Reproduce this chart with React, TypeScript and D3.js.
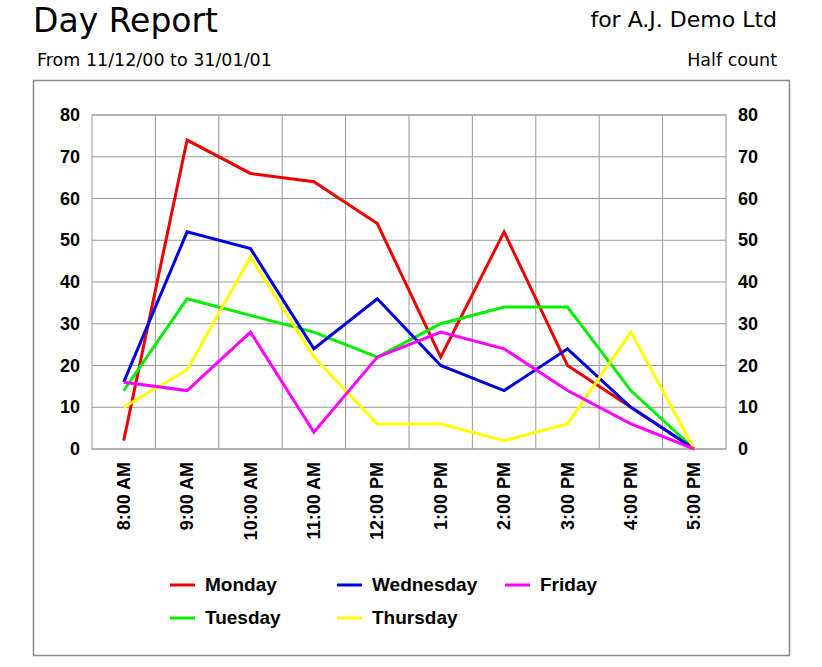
import React from "react";
import * as d3 from "d3";

const categories = ["8:00 AM","9:00 AM","10:00 AM","11:00 AM","12:00 PM","1:00 PM","2:00 PM","3:00 PM","4:00 PM","5:00 PM"];
const seriesNames = ["Monday","Tuesday","Wednesday","Thursday","Friday"];
const seriesColors = ["#ee0000","#00ee00","#0000dd","#ffff00","#ff00ff"];
const monday = [2,74,66,64,54,22,52,20,10,0];
const tuesday = [14,36,32,28,22,30,34,34,14,0];
const wednesday = [16,52,48,24,36,20,14,24,10,0];
const thursday = [10,19,46,22,6,6,2,6,28,0];
const friday = [16,14,28,4,22,28,24,14,6,0];
const yTicks = [0,10,20,30,40,50,60,70,80];

export default function App() {
  const series = [monday, tuesday, wednesday, thursday, friday];
  const x = d3.scaleBand<string>().domain(categories).range([92, 726]);
  const y = d3.scaleLinear().domain([0, 80]).range([449, 115]);
  const cx = (c: string) => (x(c) as number) + x.bandwidth() / 2;
  const line = d3.line<number>().x((_, i) => cx(categories[i])).y(d => y(d));
  const legendPos = [[170,585],[170,618],[337,585],[337,618],[505,585]];
  const f = "Liberation Sans, Arial, sans-serif";
  const g = "DejaVu Sans, Verdana, sans-serif";
  return (
    <svg width={822} height={667} style={{position:"absolute",left:0,top:0}}>
      <rect width={822} height={667} fill="#fff" />
      <text x={33} y={32} fontFamily={g} fontSize={33}>Day Report</text>
      <text x={777} y={27} fontFamily={g} fontSize={22} textAnchor="end">for A.J. Demo Ltd</text>
      <text x={37} y={66} fontFamily={g} fontSize={17.5}>From 11/12/00 to 31/01/01</text>
      <text x={777} y={66} fontFamily={g} fontSize={17.5} textAnchor="end">Half count</text>
      <rect x={33.5} y={80.5} width={756} height={575} fill="none" stroke="#888" strokeWidth={1.5} />
      {yTicks.map(t => <line key={t} x1={92} x2={726} y1={y(t)} y2={y(t)} stroke="#999" strokeWidth={1} />)}
      {categories.slice(1).map(c => <line key={c} x1={x(c)} x2={x(c)} y1={115} y2={449} stroke="#999" strokeWidth={1} />)}
      <rect x={92} y={115} width={634} height={334} fill="none" stroke="#999" />
      {yTicks.map(t => <text key={"l"+t} x={80} y={y(t)+6} textAnchor="end" fontFamily={f} fontWeight="bold" fontSize={18}>{t}</text>)}
      {yTicks.map(t => <text key={"r"+t} x={738} y={y(t)+6} fontFamily={f} fontWeight="bold" fontSize={18}>{t}</text>)}
      {categories.map(c => <text key={c} transform={`translate(${cx(c)+6},462) rotate(-90)`} textAnchor="end" fontFamily={f} fontWeight="bold" fontSize={18}>{c}</text>)}
      {series.map((s, i) => <path key={i} d={line(s) as string} fill="none" stroke={seriesColors[i]} strokeWidth={3} />)}
      {seriesNames.map((n, i) => (
        <g key={n}>
          <line x1={legendPos[i][0]} x2={legendPos[i][0]+25} y1={legendPos[i][1]} y2={legendPos[i][1]} stroke={seriesColors[i]} strokeWidth={3} />
          <text x={legendPos[i][0]+35} y={legendPos[i][1]+6} fontFamily={f} fontWeight="bold" fontSize={19}>{n}</text>
        </g>
      ))}
    </svg>
  );
}
